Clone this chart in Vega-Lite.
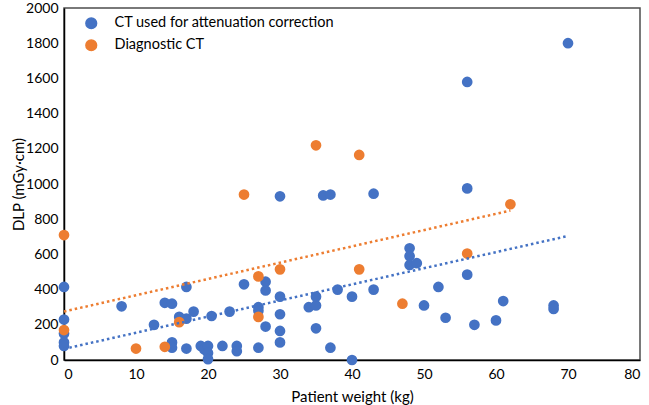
{
  "$schema": "https://vega.github.io/schema/vega-lite/v6.json",
  "width": 576,
  "height": 352,
  "autosize": {"type": "none"},
  "padding": {"left": 64, "top": 8, "right": 9, "bottom": 45},
  "background": "white",
  "config": {
    "font": "Lato",
    "view": {"stroke": "#4d4d4d", "strokeWidth": 1.5},
    "axis": {"grid": false, "ticks": false, "domainColor": "#000000", "domainWidth": 1.5, "labelColor": "#000000", "titleColor": "#000000", "labelFontSize": 14, "titleFontSize": 15, "titleFontWeight": "normal", "labelFont": "Lato", "titleFont": "Lato", "labelOverlap": false, "labelBound": false}
  },
  "data": {"values": [
    {"weight": 0, "dlp": 415, "type": "CT used for attenuation correction"},
    {"weight": 0, "dlp": 230, "type": "CT used for attenuation correction"},
    {"weight": 0, "dlp": 150, "type": "CT used for attenuation correction"},
    {"weight": 0, "dlp": 100, "type": "CT used for attenuation correction"},
    {"weight": 0, "dlp": 80, "type": "CT used for attenuation correction"},
    {"weight": 8, "dlp": 305, "type": "CT used for attenuation correction"},
    {"weight": 12.5, "dlp": 200, "type": "CT used for attenuation correction"},
    {"weight": 14, "dlp": 325, "type": "CT used for attenuation correction"},
    {"weight": 15, "dlp": 320, "type": "CT used for attenuation correction"},
    {"weight": 15, "dlp": 100, "type": "CT used for attenuation correction"},
    {"weight": 15, "dlp": 70, "type": "CT used for attenuation correction"},
    {"weight": 16, "dlp": 245, "type": "CT used for attenuation correction"},
    {"weight": 17, "dlp": 235, "type": "CT used for attenuation correction"},
    {"weight": 17, "dlp": 415, "type": "CT used for attenuation correction"},
    {"weight": 18, "dlp": 275, "type": "CT used for attenuation correction"},
    {"weight": 17, "dlp": 65, "type": "CT used for attenuation correction"},
    {"weight": 19, "dlp": 80, "type": "CT used for attenuation correction"},
    {"weight": 19.5, "dlp": 60, "type": "CT used for attenuation correction"},
    {"weight": 20, "dlp": 80, "type": "CT used for attenuation correction"},
    {"weight": 20, "dlp": 40, "type": "CT used for attenuation correction"},
    {"weight": 20, "dlp": 5, "type": "CT used for attenuation correction"},
    {"weight": 20.5, "dlp": 250, "type": "CT used for attenuation correction"},
    {"weight": 22, "dlp": 80, "type": "CT used for attenuation correction"},
    {"weight": 23, "dlp": 275, "type": "CT used for attenuation correction"},
    {"weight": 24, "dlp": 80, "type": "CT used for attenuation correction"},
    {"weight": 24, "dlp": 50, "type": "CT used for attenuation correction"},
    {"weight": 25, "dlp": 430, "type": "CT used for attenuation correction"},
    {"weight": 27, "dlp": 300, "type": "CT used for attenuation correction"},
    {"weight": 27, "dlp": 280, "type": "CT used for attenuation correction"},
    {"weight": 27, "dlp": 70, "type": "CT used for attenuation correction"},
    {"weight": 28, "dlp": 445, "type": "CT used for attenuation correction"},
    {"weight": 28, "dlp": 395, "type": "CT used for attenuation correction"},
    {"weight": 28, "dlp": 190, "type": "CT used for attenuation correction"},
    {"weight": 30, "dlp": 930, "type": "CT used for attenuation correction"},
    {"weight": 30, "dlp": 360, "type": "CT used for attenuation correction"},
    {"weight": 30, "dlp": 260, "type": "CT used for attenuation correction"},
    {"weight": 30, "dlp": 165, "type": "CT used for attenuation correction"},
    {"weight": 30, "dlp": 100, "type": "CT used for attenuation correction"},
    {"weight": 34, "dlp": 300, "type": "CT used for attenuation correction"},
    {"weight": 35, "dlp": 310, "type": "CT used for attenuation correction"},
    {"weight": 35, "dlp": 360, "type": "CT used for attenuation correction"},
    {"weight": 35, "dlp": 180, "type": "CT used for attenuation correction"},
    {"weight": 36, "dlp": 935, "type": "CT used for attenuation correction"},
    {"weight": 37, "dlp": 940, "type": "CT used for attenuation correction"},
    {"weight": 37, "dlp": 70, "type": "CT used for attenuation correction"},
    {"weight": 38, "dlp": 400, "type": "CT used for attenuation correction"},
    {"weight": 40, "dlp": 360, "type": "CT used for attenuation correction"},
    {"weight": 40, "dlp": 0, "type": "CT used for attenuation correction"},
    {"weight": 43, "dlp": 945, "type": "CT used for attenuation correction"},
    {"weight": 43, "dlp": 400, "type": "CT used for attenuation correction"},
    {"weight": 48, "dlp": 635, "type": "CT used for attenuation correction"},
    {"weight": 48, "dlp": 590, "type": "CT used for attenuation correction"},
    {"weight": 48, "dlp": 540, "type": "CT used for attenuation correction"},
    {"weight": 49, "dlp": 550, "type": "CT used for attenuation correction"},
    {"weight": 50, "dlp": 310, "type": "CT used for attenuation correction"},
    {"weight": 52, "dlp": 415, "type": "CT used for attenuation correction"},
    {"weight": 53, "dlp": 240, "type": "CT used for attenuation correction"},
    {"weight": 56, "dlp": 1580, "type": "CT used for attenuation correction"},
    {"weight": 56, "dlp": 975, "type": "CT used for attenuation correction"},
    {"weight": 56, "dlp": 485, "type": "CT used for attenuation correction"},
    {"weight": 57, "dlp": 200, "type": "CT used for attenuation correction"},
    {"weight": 60, "dlp": 225, "type": "CT used for attenuation correction"},
    {"weight": 61, "dlp": 335, "type": "CT used for attenuation correction"},
    {"weight": 68, "dlp": 310, "type": "CT used for attenuation correction"},
    {"weight": 68, "dlp": 290, "type": "CT used for attenuation correction"},
    {"weight": 70, "dlp": 1800, "type": "CT used for attenuation correction"},
    {"weight": 0, "dlp": 710, "type": "Diagnostic CT"},
    {"weight": 0, "dlp": 170, "type": "Diagnostic CT"},
    {"weight": 10, "dlp": 65, "type": "Diagnostic CT"},
    {"weight": 14, "dlp": 75, "type": "Diagnostic CT"},
    {"weight": 16, "dlp": 215, "type": "Diagnostic CT"},
    {"weight": 25, "dlp": 940, "type": "Diagnostic CT"},
    {"weight": 27, "dlp": 475, "type": "Diagnostic CT"},
    {"weight": 27, "dlp": 245, "type": "Diagnostic CT"},
    {"weight": 30, "dlp": 515, "type": "Diagnostic CT"},
    {"weight": 35, "dlp": 1220, "type": "Diagnostic CT"},
    {"weight": 41, "dlp": 1165, "type": "Diagnostic CT"},
    {"weight": 41, "dlp": 515, "type": "Diagnostic CT"},
    {"weight": 47, "dlp": 320, "type": "Diagnostic CT"},
    {"weight": 56, "dlp": 605, "type": "Diagnostic CT"},
    {"weight": 62, "dlp": 885, "type": "Diagnostic CT"}
  ]},
  "layer": [
    {
      "mark": {"type": "point", "filled": true, "opacity": 1, "size": 115},
      "encoding": {
        "x": {"field": "weight", "type": "quantitative", "scale": {"domain": [0, 80], "nice": false}, "axis": {"title": "Patient weight (kg)", "values": [0,10,20,30,40,50,60,70,80], "tickCount": 20, "format": "d", "labelOverlap": false, "labelPadding": 7, "titleY": 36, "titleBaseline": "middle"}},
        "y": {"field": "dlp", "type": "quantitative", "scale": {"domain": [0, 2000], "nice": false}, "axis": {"title": "DLP (mGy·cm)", "values": [0,200,400,600,800,1000,1200,1400,1600,1800,2000], "tickCount": 20, "format": "d", "labelOverlap": false, "labelPadding": 6, "titleX": -46, "titleBaseline": "middle"}},
        "color": {"field": "type", "type": "nominal", "scale": {"domain": ["CT used for attenuation correction", "Diagnostic CT"], "range": ["#4472C4", "#ED7D31"]}, "legend": {"title": null, "orient": "none", "legendX": 20, "legendY": 8, "symbolSize": 115, "symbolType": "circle", "labelFontSize": 14.5, "labelColor": "#000000", "labelOffset": 16, "labelLimit": 0, "rowPadding": 4, "padding": 0, "labelFont": "Lato"}}
      }
    },
    {
      "transform": [{"regression": "dlp", "on": "weight", "groupby": ["type"]}],
      "mark": {"type": "line", "strokeDash": [2.5, 3], "strokeWidth": 2.5},
      "encoding": {
        "x": {"field": "weight", "type": "quantitative"},
        "y": {"field": "dlp", "type": "quantitative"},
        "color": {"field": "type", "type": "nominal", "legend": null}
      }
    }
  ]
}
